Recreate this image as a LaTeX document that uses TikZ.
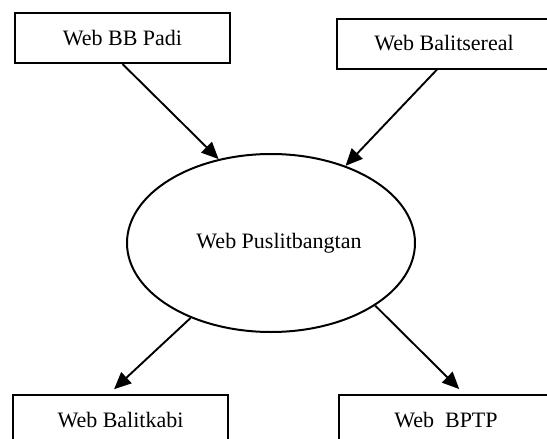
\documentclass[tikz,border=0pt]{standalone}
\usepackage{fontspec}
\setmainfont{Liberation Serif}
\usepackage{tikz}
\usetikzlibrary{arrows.meta,shapes.geometric}

\begin{document}
\begin{tikzpicture}[x=1pt, y=-1pt, >={Triangle[length=17pt,width=15pt]},
    webbox/.style={draw, line width=2pt, minimum width=215pt, minimum height=50pt, inner sep=0pt, font=\fontsize{22}{26}\selectfont},
    link/.style={->, line width=1.9pt}]
    \useasboundingbox (0,0) rectangle (547,439);
    \clip (0,0) rectangle (547,439);

    % Sumber (atas)
    \node (bbpadi) at (122.5,38) [webbox] {Web BB Padi};
    \node (balitsereal) at (444,43.5) [webbox] {Web Balitsereal};

    % Pusat
    \node (puslit) at (271,243) [ellipse, draw, line width=2pt, minimum width=288pt, minimum height=178pt, inner sep=0pt,
        label={[xshift=8pt, font=\fontsize{22}{26}\selectfont]center:Web Puslitbangtan}] {};

    % Tujuan (bawah)
    \node (balitkabi) at (120.5,420) [webbox] {Web Balitkabi};
    \node (bptp) at (446,420) [webbox] {Web\ \ BPTP};

    % Panah
    \draw[link] (bbpadi.south) -- (puslit.122);
    \draw[link] (balitsereal.255) -- (puslit.46);
    \draw[link, shorten >=7pt] (puslit.223.5) -- (balitkabi.114);
    \draw[link, shorten >=7pt] (puslit.-31) -- (bptp.55);
\end{tikzpicture}
\end{document}
